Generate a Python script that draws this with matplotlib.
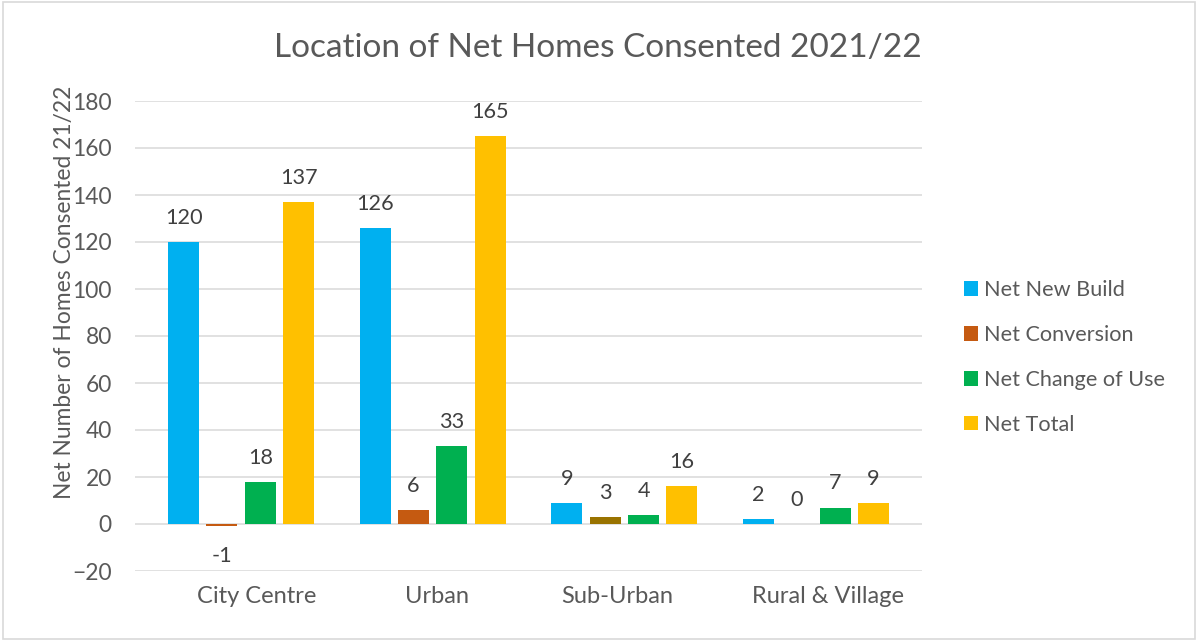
import matplotlib
matplotlib.use('Agg')
import matplotlib.pyplot as plt
from matplotlib.patches import Rectangle
import numpy as np

categories = ["City Centre", "Urban", "Sub-Urban", "Rural & Village"]
series_names = ["Net New Build", "Net Conversion", "Net Change of Use", "Net Total"]
net_new_build = [120, 126, 9, 2]
net_conversion = [-1, 6, 3, 0]
net_change_of_use = [18, 33, 4, 7]
net_total = [137, 165, 16, 9]
y_ticks = list(range(-20, 181, 20))

title = "Location of Net Homes Consented 2021/22"
y_label = "Net Number of Homes Consented 21/22"

plt.rcParams['font.family'] = ['Lato', 'DejaVu Sans']
TXT = '#595959'
GRID = '#D9D9D9'
FS = 15.6

W, H = 1197, 640
fig = plt.figure(figsize=(W / 100, H / 100), dpi=100)
ax = fig.add_axes([135 / W, (H - 571) / H, 787 / W, 470 / H])

series = [net_new_build, net_conversion, net_change_of_use, net_total]
colors = [
    ['#00B0F0'] * 4,
    ['#C55A11', '#C55A11', '#997300', '#C55A11'],
    ['#00B050'] * 4,
    ['#FFC000'] * 4,
]
offsets = [-0.3, -0.1, 0.1, 0.3]
width = 0.162
x = np.arange(len(categories))

handles = []
for vals, cols, off, name in zip(series, colors, offsets, series_names):
    bars = ax.bar(x + off, vals, width, color=cols, label=name, zorder=3)
    handles.append(bars)
    for xi, v in zip(x + off, vals):
        if v < 0:
            ax.annotate(str(v), (xi, v), xytext=(0, -25.5), textcoords='offset points',
                        ha='center', va='baseline', fontsize=FS, color='#404040')
        else:
            ax.annotate(str(v), (xi, v), xytext=(0, 13), textcoords='offset points',
                        ha='center', va='baseline', fontsize=FS, color='#404040')

ax.set_ylim(-20, 180)
ax.set_xlim(-0.553, 3.552)
ax.set_yticks(y_ticks)
ax.yaxis.grid(True, color=GRID, linewidth=1.1, zorder=0)
ax.set_axisbelow(True)
for s in ax.spines.values():
    s.set_visible(False)
ax.tick_params(axis='y', length=0, pad=16.6, labelsize=16.4, labelcolor=TXT)
ax.tick_params(axis='x', length=0, pad=11, labelsize=17, labelcolor=TXT)
ax.set_xticks(x + np.array([0.08, 0.02, -0.04, 0.06]))
ax.set_xticklabels(categories)

fig.text(598 / W, 1 - 57 / H, title, ha='center', va='baseline', fontsize=24, color=TXT)
fig.text(65 / W, 1 - 292 / H, y_label, rotation=90, ha='center', va='center', fontsize=16.4, color=TXT)

fig.legend(handles=handles, loc='center left', bbox_to_anchor=(964 / W, 1 - 357.5 / H),
           frameon=False, fontsize=FS, labelcolor=TXT, handlelength=0.65, handleheight=0.65,
           handletextpad=0.28, labelspacing=1.15, borderpad=0, borderaxespad=0)

fig.patches.append(Rectangle((3 / W, 1 / H), 1192 / W, 637 / H, transform=fig.transFigure,
                             fill=False, edgecolor=GRID, linewidth=1.2))

fig.savefig('out.png', dpi=100)
